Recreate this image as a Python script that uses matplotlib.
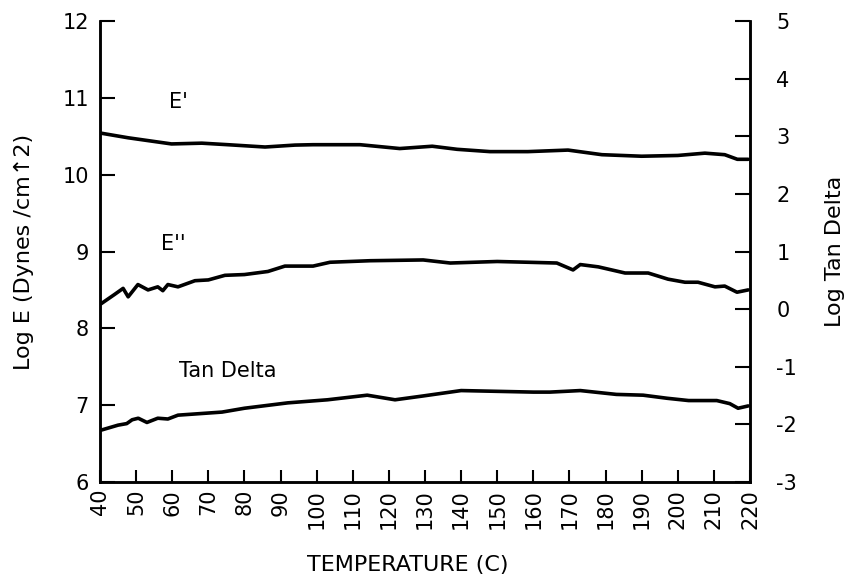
import matplotlib
matplotlib.use("Agg")
import matplotlib.pyplot as plt

plt.rcParams["font.family"] = ["DejaVu Sans"]
plt.rcParams["axes.unicode_minus"] = False

# E' (storage modulus), log scale on left axis
e1_temp = [40.3, 47.8, 59.8, 68.2, 75.4, 85.7, 94, 99, 112, 123, 132, 138.9, 148, 158.5,
           169.6, 179, 190, 200, 207.5, 213, 216.5, 219.5]
e1_val = [10.54, 10.48, 10.40, 10.41, 10.39, 10.36, 10.385, 10.39, 10.39, 10.34, 10.37, 10.33, 10.30, 10.30,
          10.32, 10.26, 10.24, 10.25, 10.28, 10.26, 10.20, 10.20]

# E'' (loss modulus)
e2_temp = [40.3, 44, 46.4, 47.8, 50.5, 53.3, 56, 57.4, 58.8, 61.6, 66.3, 70, 74.6, 80, 86.5, 91.2, 99,
           103.7, 114.8, 129.5, 137, 150, 158.5, 166.5, 171, 173, 178, 185.4, 191.8, 197.3, 202,
           205.6, 210.3, 213, 216.4, 219.5]
e2_val = [8.32, 8.44, 8.52, 8.41, 8.57, 8.50, 8.54, 8.49, 8.57, 8.54, 8.62, 8.63, 8.69, 8.70, 8.74, 8.81, 8.81,
          8.86, 8.88, 8.89, 8.85, 8.87, 8.86, 8.85, 8.76, 8.83, 8.80, 8.72, 8.72, 8.64, 8.60,
          8.60, 8.54, 8.55, 8.47, 8.50]

# Tan Delta (plotted against left scale as drawn)
td_temp = [40.3, 45, 47.4, 48.9, 50.6, 53, 56, 58.8, 61.6, 73.8, 80, 92, 103, 114, 121.7, 129.5,
           140, 150, 160, 164.6, 173, 183, 190.4, 197, 203, 210.8, 214.4, 216.7, 219.5]
td_val = [6.675, 6.74, 6.76, 6.81, 6.83, 6.775, 6.83, 6.82, 6.87, 6.91, 6.96, 7.03, 7.07, 7.13, 7.07, 7.12,
          7.19, 7.18, 7.17, 7.17, 7.19, 7.14, 7.13, 7.09, 7.06, 7.06, 7.02, 6.96, 6.99]

x_ticks = list(range(40, 221, 10))
left_ticks = [6, 7, 8, 9, 10, 11, 12]
right_ticks = [-3, -2, -1, 0, 1, 2, 3, 4, 5]

fig = plt.figure(figsize=(8.5, 5.82), dpi=100)
ax = fig.add_axes([100 / 850, 1 - 482 / 582, 650 / 850, 461 / 582])
ax2 = ax.twinx()

for t, v in [(e1_temp, e1_val), (e2_temp, e2_val), (td_temp, td_val)]:
    ax.plot(t, v, color="black", linewidth=2.6, solid_capstyle="round", solid_joinstyle="round")

ax.set_xlim(40, 220)
ax.set_ylim(6, 12)
ax2.set_ylim(-3, 5)

ax.set_xticks(x_ticks)
ax.set_xticklabels([str(x) for x in x_ticks], rotation=90, va="top", ha="center")
ax.set_yticks(left_ticks)
ax2.set_yticks(right_ticks)

for a in (ax, ax2):
    a.spines["top"].set_visible(False)
    for s in a.spines.values():
        s.set_linewidth(1.8)

ax.tick_params(axis="x", direction="in", length=9, width=1.5, pad=5, labelsize=15)
ax.tick_params(axis="y", direction="in", length=11, width=1.5, pad=8, labelsize=15)
ax2.tick_params(axis="y", direction="in", length=11, width=1.5, pad=19, labelsize=15)

ax.text(61.6, 10.94, "E'", fontsize=15, va="center", ha="center")
ax.text(60.2, 9.10, "E''", fontsize=15, va="center", ha="center")
ax.text(75.4, 7.45, "Tan Delta", fontsize=15, va="center", ha="center")

fig.text(24 / 850, 1 - 252 / 582, "Log E (Dynes /cm\u21912)", rotation=90,
         fontsize=16, ha="center", va="center")
fig.text(835 / 850, 1 - 251 / 582, "Log Tan Delta", rotation=90,
         fontsize=16, ha="center", va="center")
fig.text(408 / 850, 1 - 565 / 582, "TEMPERATURE (C)", fontsize=16,
         ha="center", va="center")

fig.savefig("out.png", dpi=100, facecolor="white")
